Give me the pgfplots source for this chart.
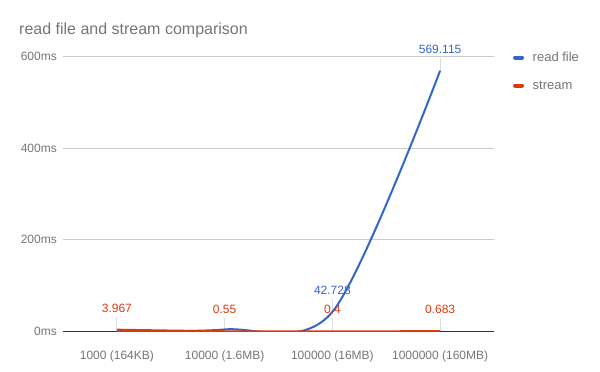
\documentclass[border=0pt]{standalone}
\usepackage{fontspec}
\setmainfont{Liberation Sans}
\usepackage{pgfplots}
\pgfplotsset{compat=1.18}
\definecolor{gblue}{HTML}{3366CC}
\definecolor{gred}{HTML}{DC3912}
\definecolor{gtext}{HTML}{757575}
\definecolor{ggrid}{HTML}{CCCCCC}
\definecolor{gbase}{HTML}{333333}
\definecolor{gstem}{HTML}{DDDDDD}
\begin{document}
\begin{tikzpicture}[x=1bp,y=1bp]
\useasboundingbox (0,0) rectangle (600,371);
\node[anchor=base west, inner sep=0, text=gtext, font=\fontsize{16bp}{19bp}\selectfont] at (19,337) {read file and stream comparison};
\begin{axis}[
  at={(63bp,39.5bp)}, anchor=south west,
  scale only axis, width=431bp, height=275bp,
  xmin=-0.5, xmax=3.5, ymin=0, ymax=600,
  axis line style={draw=none},
  tick style={draw=none},
  major tick length=0pt,
  ytick={200,400,600}, yticklabels={200ms,400ms,600ms},
  extra y ticks={0}, extra y tick labels={0ms},
  extra y tick style={grid style={draw=gbase, line width=1bp}},
  ymajorgrids, grid style={draw=ggrid, line width=1bp},
  xtick={0,1,2,3},
  xticklabels={1000 (164KB),10000 (1.6MB),100000 (16MB),1000000 (160MB)},
  tick label style={text=gtext, font=\fontsize{12bp}{14bp}\selectfont},
  xticklabel style={anchor=base, yshift=-28bp, inner sep=0pt},
  yticklabel style={anchor=east, xshift=-6bp, inner sep=0pt},
  legend cell align=left,
  legend image code/.code={\draw[line width=4bp, line cap=round] (2bp,0bp) -- (9bp,0bp);},
  legend style={at={(axis description cs:1.0441,1.02)}, anchor=north west,
    draw=none, fill=none, inner sep=0pt, outer sep=0pt, row sep=15bp,
    font=\fontsize{13bp}{15bp}\selectfont, text=gtext,
    nodes={inner sep=0pt, text height=10bp, text depth=3bp},
    /tikz/every odd column/.append style={column sep=8.7bp}},
]
% annotation stems
\addplot[draw=none, forget plot, error bars/.cd, y dir=plus, y fixed=28,
  error mark=none, error bar style={draw=gstem, line width=1bp}]
  coordinates {(2,42.728) (3,569.115)};
\addplot[draw=none, forget plot, error bars/.cd, y dir=plus, y fixed=28,
  error mark=none, error bar style={draw=gstem, line width=1bp}]
  coordinates {(0,3.967) (1,0.55) (2,0.4) (3,0.683)};
% series
\addplot[gblue, line width=2bp, smooth] coordinates {(0,0.8) (1,4.5) (2,42.728) (3,569.115)};
\addlegendentry{read file}
\addplot[gred, line width=2bp, smooth] coordinates {(0,3.967) (1,0.55) (2,0.4) (3,0.683)};
\addlegendentry{stream}
% annotations
\addplot[draw=none, forget plot, point meta=explicit symbolic, nodes near coords,
  nodes near coords style={anchor=base, yshift=17.5bp, inner sep=0pt, text=gblue,
  font=\fontsize{12bp}{14bp}\selectfont}]
  coordinates {(2,42.728)[42.728] (3,569.115)[569.115]};
\addplot[draw=none, forget plot, point meta=explicit symbolic, nodes near coords,
  nodes near coords style={anchor=base, yshift=17.5bp, inner sep=0pt, text=gred,
  font=\fontsize{12bp}{14bp}\selectfont}]
  coordinates {(0,3.967)[3.967] (1,0.55)[0.55] (2,0.4)[0.4] (3,0.683)[0.683]};
\end{axis}
\end{tikzpicture}
\end{document}
